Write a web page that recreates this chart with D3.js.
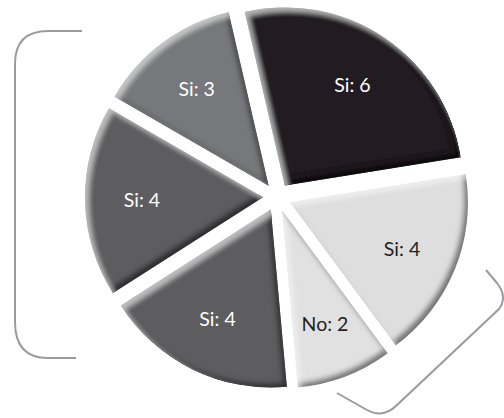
<!DOCTYPE html>
<html>
<head>
<meta charset="utf-8">
<script src="https://cdn.jsdelivr.net/npm/d3@7/dist/d3.min.js"></script>
<style>
  html, body { margin: 0; padding: 0; background: #ffffff; }
  svg { display: block; }
  .lbl { font-family: Lato, "Noto Sans", sans-serif; font-size: 19.5px; }
</style>
</head>
<body>
<svg id="chart" width="504" height="418"></svg>
<script>
// Answers per group, drawn clockwise from just left of twelve o'clock
const categories = ["Si", "Si", "No", "Si", "Si", "Si"];
const values = [6, 4, 2, 4, 4, 3];
const fills = ["#231f20", "#dedede", "#e1e1e2", "#5d5d60", "#5d5d60", "#77787b"];
const textColors = ["#ffffff", "#231f20", "#231f20", "#ffffff", "#ffffff", "#ffffff"];

const width = 504, height = 418;
const cx = 277, cy = 197;
const radius = 178;
const explode = 14;
const startAngle = -13 * Math.PI / 180;

const svg = d3.select("#chart");

// Bevel: light from the upper left, shade on the lower right edges
const defs = svg.append("defs");
const f = defs.append("filter").attr("id", "bevel")
  .attr("x", "-10%").attr("y", "-10%").attr("width", "120%").attr("height", "120%");
f.append("feGaussianBlur").attr("in", "SourceAlpha").attr("stdDeviation", 2.6).attr("result", "blur");
f.append("feOffset").attr("in", "blur").attr("dx", -4).attr("dy", -4).attr("result", "upLeft");
f.append("feOffset").attr("in", "blur").attr("dx", 4).attr("dy", 4).attr("result", "downRight");
f.append("feComposite").attr("in", "SourceAlpha").attr("in2", "upLeft")
  .attr("operator", "arithmetic").attr("k2", 1).attr("k3", -1).attr("result", "shadeMask");
f.append("feComposite").attr("in", "SourceAlpha").attr("in2", "downRight")
  .attr("operator", "arithmetic").attr("k2", 1).attr("k3", -1).attr("result", "lightMask");
f.append("feFlood").attr("flood-color", "#000000").attr("flood-opacity", 0.75).attr("result", "shadeCol");
f.append("feComposite").attr("in", "shadeCol").attr("in2", "shadeMask").attr("operator", "in").attr("result", "shade");
f.append("feFlood").attr("flood-color", "#ffffff").attr("flood-opacity", 0.45).attr("result", "lightCol");
f.append("feComposite").attr("in", "lightCol").attr("in2", "lightMask").attr("operator", "in").attr("result", "light");
const merge = f.append("feMerge");
merge.append("feMergeNode").attr("in", "SourceGraphic");
merge.append("feMergeNode").attr("in", "shade");
merge.append("feMergeNode").attr("in", "light");

const pie = d3.pie().sort(null)
  .startAngle(startAngle)
  .endAngle(startAngle + 2 * Math.PI);
const arcs = pie(values);

const arc = d3.arc().innerRadius(0).outerRadius(radius);
const labelArc = d3.arc().innerRadius(radius * 0.68).outerRadius(radius * 0.68);

const g = svg.append("g").attr("transform", `translate(${cx},${cy})`);

const slices = g.selectAll("g.slice")
  .data(arcs)
  .join("g")
  .attr("class", "slice")
  .attr("transform", d => {
    const a = (d.startAngle + d.endAngle) / 2;
    return `translate(${explode * Math.sin(a)},${-explode * Math.cos(a)})`;
  });

slices.append("path")
  .attr("d", arc)
  .attr("fill", (d, i) => fills[i])
  .attr("filter", "url(#bevel)");

slices.append("text")
  .attr("class", "lbl")
  .attr("transform", d => `translate(${labelArc.centroid(d)})`)
  .attr("text-anchor", "middle")
  .attr("dominant-baseline", "central")
  .attr("fill", (d, i) => textColors[i])
  .text((d, i) => `${categories[i]}: ${values[i]}`);

// Grouping brackets
const bracketStyle = s => s.attr("fill", "none").attr("stroke", "#9b9b9f")
  .attr("stroke-width", 2).attr("stroke-linecap", "butt");

const left = d3.path();
left.moveTo(82, 31);
left.lineTo(48, 31);
left.quadraticCurveTo(15, 31, 15, 64);
left.lineTo(15, 322);
left.quadraticCurveTo(15, 358, 48, 358);
left.lineTo(76, 358);
svg.append("path").attr("d", left.toString()).call(bracketStyle);

const right = d3.path();
right.moveTo(486, 270);
right.lineTo(497, 283);
right.quadraticCurveTo(508, 297, 499, 309);
right.lineTo(397, 405);
right.quadraticCurveTo(383, 419, 367, 410);
right.lineTo(337, 393);
svg.append("path").attr("d", right.toString()).call(bracketStyle);
</script>
</body>
</html>
